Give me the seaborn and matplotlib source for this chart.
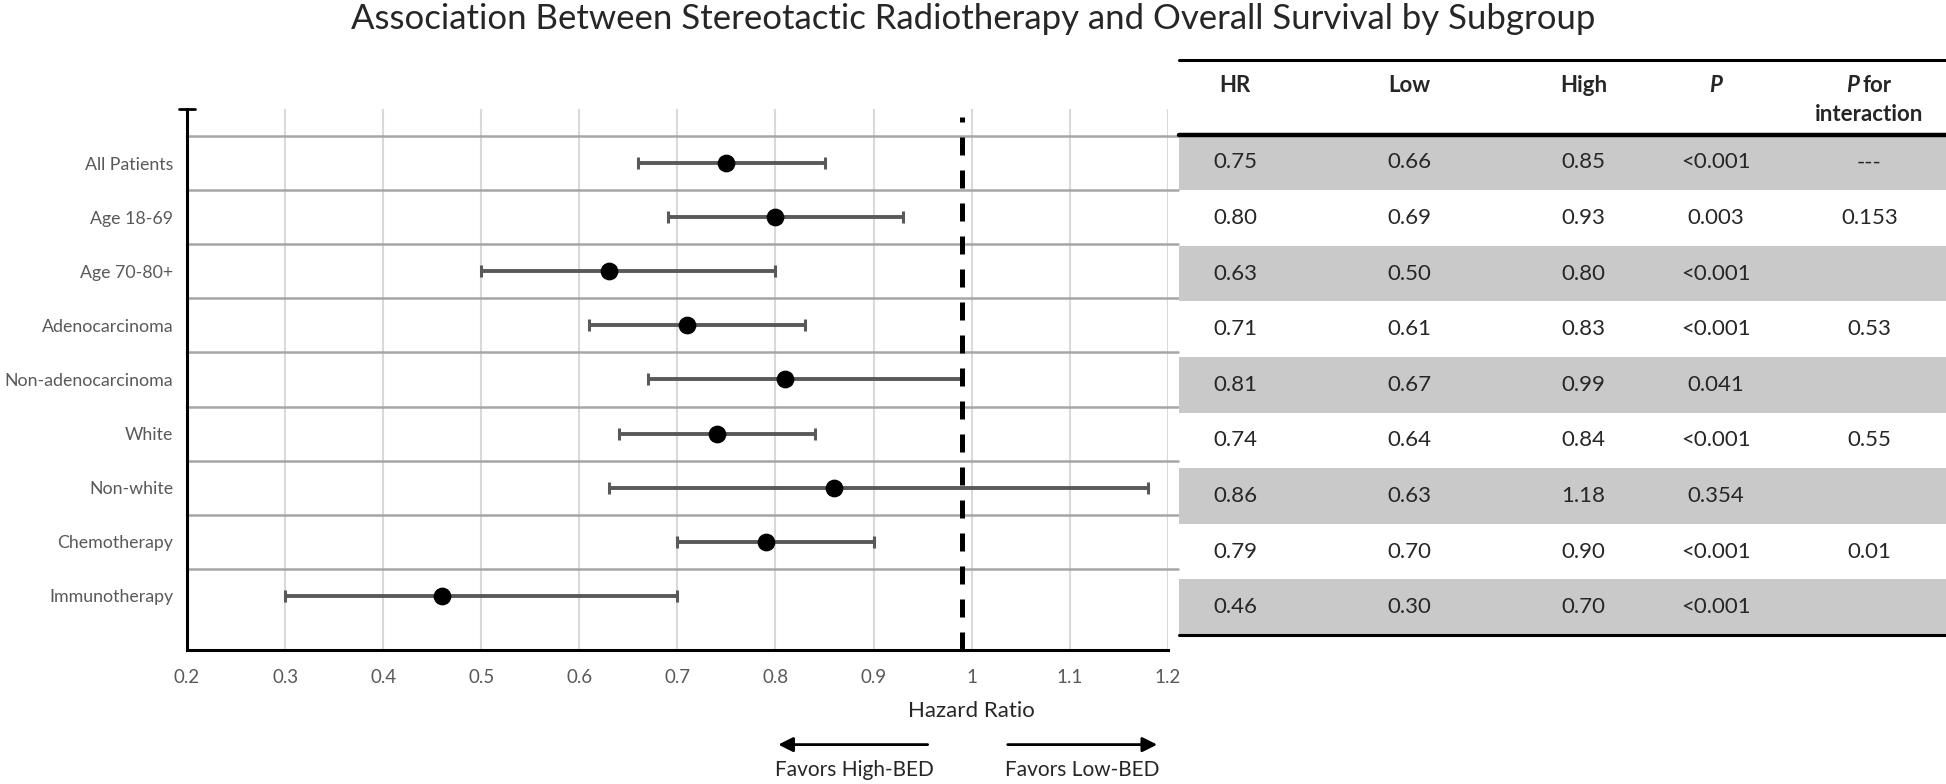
import numpy as np
import pandas as pd
import seaborn as sns
import matplotlib.pyplot as plt

# data
subgroups = ["All Patients", "Age 18-69", "Age 70-80+", "Adenocarcinoma", "Non-adenocarcinoma",
             "White", "Non-white", "Chemotherapy", "Immunotherapy"]
hr = [0.75, 0.80, 0.63, 0.71, 0.81, 0.74, 0.86, 0.79, 0.46]
low = [0.66, 0.69, 0.50, 0.61, 0.67, 0.64, 0.63, 0.70, 0.30]
high = [0.85, 0.93, 0.80, 0.83, 0.99, 0.84, 1.18, 0.90, 0.70]
p_vals = ["<0.001", "0.003", "<0.001", "<0.001", "0.041", "<0.001", "0.354", "<0.001", "<0.001"]
p_inter = ["---", "0.153", "", "0.53", "", "0.55", "", "0.01", ""]
x_ticks = [0.2, 0.3, 0.4, 0.5, 0.6, 0.7, 0.8, 0.9, 1.0, 1.1, 1.2]
x_tick_labels = ["0.2", "0.3", "0.4", "0.5", "0.6", "0.7", "0.8", "0.9", "1", "1.1", "1.2"]
ref_line = 0.99

df = pd.DataFrame({"subgroup": subgroups, "hr": hr, "low": low, "high": high})
df["pos"] = np.arange(len(df))

sns.set_style("white")
plt.rcParams["font.family"] = ["Lato", "DejaVu Sans"]

fig = plt.figure(figsize=(19.46, 7.84), dpi=100)
ax = fig.add_axes([0.0961, 0.171, 0.504, 0.690])

# light vertical grid
for xv in x_ticks[1:]:
    ax.axvline(xv, color="#d9d9d9", lw=1.5, zorder=0)
# row separators
for i in range(len(df)):
    ax.plot([0.2, 1.21], [i - 0.5, i - 0.5], color="#a6a6a6", lw=1.8, zorder=1, clip_on=False)

ax.errorbar(df["hr"], df["pos"], xerr=[df["hr"] - df["low"], df["high"] - df["hr"]],
            fmt="none", ecolor="#595959", elinewidth=2.8, capsize=4.5, capthick=2.2, zorder=3)
sns.scatterplot(data=df, x="hr", y="pos", ax=ax, color="black", s=140, edgecolor="black",
                zorder=4, legend=False)

ax.axvline(ref_line, ymin=0, ymax=0.985, color="black", lw=3.6, dashes=(3.6, 3.0), zorder=5)

ax.set_xlim(0.2, 1.2)
ax.set_ylim(9, -1)
ax.set_yticks(list(df["pos"]) + [9])
ax.set_yticklabels(subgroups + [""], fontsize=12.8, color="#595959")
ax.set_xticks(x_ticks)
ax.set_xticklabels(x_tick_labels, fontsize=13.5, color="#595959")
ax.tick_params(axis="y", direction="inout", length=10, width=2, color="black", pad=5)
ax.tick_params(axis="x", length=0, pad=14)
# top tick of the y axis
ax.plot([-0.008, 0.008], [1, 1], color="black", lw=2, transform=ax.transAxes, clip_on=False)
for s in ["top", "right"]:
    ax.spines[s].set_visible(False)
for s in ["left", "bottom"]:
    ax.spines[s].set_linewidth(2.2)
    ax.spines[s].set_color("black")
ax.set_xlabel("")
ax.set_ylabel("")
ax.text(1.0, -0.112, "Hazard Ratio", transform=ax.get_xaxis_transform(), ha="center",
        va="center", fontsize=16)

# direction arrows below the axis
ax.annotate("", xy=(0.80, -0.175), xytext=(0.958, -0.175), xycoords=("data", "axes fraction"),
            arrowprops=dict(arrowstyle="-|>", color="black", lw=2, mutation_scale=22))
ax.annotate("", xy=(1.192, -0.175), xytext=(1.034, -0.175), xycoords=("data", "axes fraction"),
            arrowprops=dict(arrowstyle="-|>", color="black", lw=2, mutation_scale=22))
ax.text(0.88, -0.222, "Favors High-BED", transform=ax.get_xaxis_transform(), ha="center",
        va="center", fontsize=15)
ax.text(1.113, -0.222, "Favors Low-BED", transform=ax.get_xaxis_transform(), ha="center",
        va="center", fontsize=15)

# table on the right
tab = fig.add_axes([0.606, 0.190, 0.394, 0.733])
head_h = 1.336
tab.set_xlim(0, 1)
tab.set_ylim(head_h + len(df), 0)
tab.axis("off")
cols_x = [0.073, 0.300, 0.527, 0.700, 0.900]
fs = 16
for i in range(len(df)):
    y0 = head_h + i
    if i % 2 == 0:
        tab.fill_between([0, 1], y0, y0 + 1, color="#c9c9c9", lw=0)
    row = [f"{hr[i]:.2f}", f"{low[i]:.2f}", f"{high[i]:.2f}", p_vals[i], p_inter[i]]
    for cx, val in zip(cols_x, row):
        tab.text(cx, y0 + 0.5, val, ha="center", va="center", fontsize=fs)
tab.plot([0, 1], [0, 0], color="black", lw=2.2, clip_on=False)
tab.plot([0, 1], [head_h, head_h], color="black", lw=3.2, clip_on=False)
tab.plot([0, 1], [head_h + len(df), head_h + len(df)], color="black", lw=2.2, clip_on=False)
hy = 0.45
for cx, lab in zip(cols_x[:3], ["HR", "Low", "High"]):
    tab.text(cx, hy, lab, ha="center", va="center", fontsize=fs, fontweight="bold")
tab.text(cols_x[3], hy, "P", ha="center", va="center", fontsize=fs, fontweight="bold", style="italic")
tab.text(cols_x[4] - 0.014, hy, "P", ha="right", va="center", fontsize=fs, fontweight="bold",
         style="italic")
tab.text(cols_x[4] - 0.009, hy, "for", ha="left", va="center", fontsize=fs, fontweight="bold")
tab.text(cols_x[4], hy + 0.52, "interaction", ha="center", va="center", fontsize=fs,
         fontweight="bold")

fig.text(0.5, 1 - 19 / 784, "Association Between Stereotactic Radiotherapy and Overall Survival by Subgroup",
         ha="center", va="center", fontsize=25)

fig.savefig("out.png", dpi=100)
